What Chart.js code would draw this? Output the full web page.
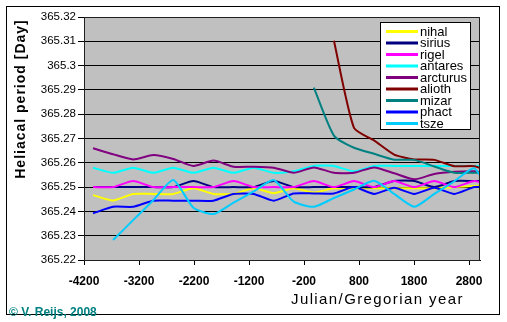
<!DOCTYPE html>
<html>
<head>
<meta charset="utf-8">
<script src="https://cdn.jsdelivr.net/npm/chart.js@4.4.1/dist/chart.umd.min.js"></script>
<style>
  html, body { margin: 0; padding: 0; background: #fff; }
  #wrap { width: 507px; height: 322px; }
</style>
</head>
<body>
<div id="wrap"><canvas id="helChart" width="507" height="322"></canvas></div>
<script>
// years of the computed points (Julian/Gregorian)
const years = [-4036, -3671, -3306, -2941, -2576, -2211, -1846, -1481, -1116, -751,
  -386, -21, 344, 709, 1074, 1439, 1804, 2169, 2534, 2899, 3264];
const xTicks = [-4200, -3200, -2200, -1200, -200, 800, 1800, 2800];
const yTicks = [365.22, 365.23, 365.24, 365.25, 365.26, 365.27, 365.28, 365.29, 365.3, 365.31, 365.32];

const starNames = ['nihal', 'sirius', 'rigel', 'antares', 'arcturus', 'alioth', 'mizar', 'phact', 'tsze'];

const nihal = [365.2467, 365.2445, 365.2472, 365.2472, 365.2472, 365.2495, 365.2472, 365.2472, 365.2495, 365.2475,
  365.2495, 365.2478, 365.2495, 365.2495, 365.2495, 365.2495, 365.2495, 365.2495, 365.2500, 365.2505, 365.2505];
const sirius = [365.2500, 365.2500, 365.2500, 365.2500, 365.2500, 365.2525, 365.2500, 365.2500, 365.2500, 365.2525,
  365.2500, 365.2500, 365.2500, 365.2500, 365.2500, 365.2525, 365.2525, 365.2500, 365.2525, 365.2525, 365.2525];
const rigel = [365.2500, 365.2500, 365.2525, 365.2500, 365.2500, 365.2500, 365.2500, 365.2525, 365.2500, 365.2500,
  365.2500, 365.2525, 365.2500, 365.2525, 365.2500, 365.2525, 365.2500, 365.2525, 365.2500, 365.2525, 365.2500];
const antares = [365.2580, 365.2559, 365.2580, 365.2559, 365.2580, 365.2559, 365.2580, 365.2559, 365.2580, 365.2559,
  365.2565, 365.2587, 365.2587, 365.2565, 365.2587, 365.2587, 365.2587, 365.2587, 365.2587, 365.2587, 365.2587];
const arcturus = [365.2660, 365.2635, 365.2614, 365.2632, 365.2616, 365.2587, 365.2609, 365.2584, 365.2584, 365.2580,
  365.2559, 365.2581, 365.2559, 365.2559, 365.2581, 365.2557, 365.2532, 365.2554, 365.2563, 365.2565, 365.2550];
const alioth = [null, null, null, null, null, null, null, null, null, null,
  null, null, 365.3102, 365.2744, 365.2692, 365.2634, 365.2614, 365.2612, 365.2586, 365.2586, 365.2555];
const mizar = [null, null, null, null, null, null, null, null, null, null,
  null, 365.2909, 365.2712, 365.2662, 365.2637, 365.2613, 365.2612, 365.2585, 365.2559, 365.2559, 365.2559];
const phact = [365.2392, 365.2419, 365.2419, 365.2444, 365.2444, 365.2444, 365.2444, 365.2472, 365.2472, 365.2444,
  365.2474, 365.2474, 365.2474, 365.2500, 365.2472, 365.2497, 365.2472, 365.2497, 365.2472, 365.2500, 365.2500];
const tsze = [null, 365.2282, 365.2364, 365.2446, 365.2529, 365.2415, 365.2389, 365.2436, 365.2482, 365.2529,
  365.2440, 365.2419, 365.2455, 365.2490, 365.2526, 365.2472, 365.2419, 365.2472, 365.2524, 365.2577, 365.2440];

const seriesValues = [nihal, sirius, rigel, antares, arcturus, alioth, mizar, phact, tsze];
const seriesColors = ['#FFFF00', '#000080', '#FF00FF', '#00FFFF', '#800080', '#800000', '#008080', '#0000FF', '#00CCFF'];

const FONT = '"Liberation Sans", Arial, Helvetica, sans-serif';
Chart.defaults.font.family = FONT;
Chart.defaults.color = '#000';

const datasets = seriesValues.map((vals, i) => ({
  label: starNames[i],
  data: years.map((x, j) => ({ x: x, y: vals[j] })).filter(p => p.y !== null),
  borderColor: seriesColors[i],
  backgroundColor: seriesColors[i],
  borderWidth: 2,
  pointRadius: 0,
  tension: 0.2,
  fill: false,
  clip: 0,
  order: seriesValues.length - i // later series on top, like the original
}));

const decor = {
  id: 'decor',
  beforeDraw(chart) {
    const ctx = chart.ctx, a = chart.chartArea;
    ctx.save();
    ctx.fillStyle = '#fff';
    ctx.fillRect(0, 0, chart.width, chart.height);
    ctx.fillStyle = '#C0C0C0';
    ctx.fillRect(a.left, a.top, a.right - a.left, a.bottom - a.top);
    ctx.restore();
  },
  afterDraw(chart) {
    const ctx = chart.ctx, a = chart.chartArea;
    ctx.save();
    // plot border
    ctx.strokeStyle = '#202020';
    ctx.lineWidth = 1;
    ctx.strokeRect(a.left + 0.5, a.top + 0.5, a.right - a.left - 1, a.bottom - a.top);

    // legend
    const lx = 380, ly = 22, lw = 90, lh = 107;
    ctx.fillStyle = '#fff';
    ctx.fillRect(lx, ly, lw, lh);
    ctx.strokeStyle = '#000';
    ctx.strokeRect(lx + 0.5, ly + 0.5, lw, lh);
    ctx.font = '13px ' + FONT;
    ctx.textBaseline = 'middle';
    ctx.textAlign = 'left';
    chart.data.datasets.forEach((ds, i) => {
      const y = 31.5 + i * 11.5;
      ctx.strokeStyle = ds.borderColor;
      ctx.lineWidth = 3;
      ctx.beginPath();
      ctx.moveTo(386, y);
      ctx.lineTo(418, y);
      ctx.stroke();
      ctx.fillStyle = '#000';
      ctx.fillText(ds.label, 420, y + 0.5);
    });

    // outer frame
    ctx.strokeStyle = '#000';
    ctx.lineWidth = 1;
    ctx.strokeRect(6.5, 6.5, 493, 308);

    // axis titles
    ctx.fillStyle = '#000';
    ctx.font = 'bold 14px ' + FONT;
    ctx.letterSpacing = '1px';
    ctx.textAlign = 'center';
    ctx.textBaseline = 'middle';
    ctx.translate(21, 99);
    ctx.rotate(-Math.PI / 2);
    ctx.fillText('Heliacal period [Day]', 0, 0);
    ctx.setTransform(1, 0, 0, 1, 0, 0);

    ctx.font = '15px ' + FONT;
    ctx.letterSpacing = '1.4px';
    ctx.textAlign = 'left';
    ctx.textBaseline = 'alphabetic';
    ctx.fillText('Julian/Gregorian year', 291, 304);

    ctx.letterSpacing = '0px';
    ctx.font = 'bold 12px ' + FONT;
    ctx.fillStyle = '#008080';
    ctx.fillText('\u00A9 V. Reijs, 2008', 9, 316);
    ctx.restore();
  }
};

new Chart(document.getElementById('helChart'), {
  type: 'line',
  data: { datasets: datasets },
  options: {
    responsive: false,
    animation: false,
    events: [],
    layout: { padding: { left: 0, right: 27, top: 17, bottom: 0 } },
    plugins: { legend: { display: false }, tooltip: { enabled: false } },
    scales: {
      x: {
        type: 'linear',
        min: -4200,
        max: 3000,
        afterBuildTicks: s => { s.ticks = xTicks.map(v => ({ value: v })); },
        afterFit: s => { s.height = 62; },
        grid: { drawOnChartArea: false, drawTicks: true, tickLength: 5, color: '#000' },
        border: { display: true, color: '#000' },
        ticks: {
          padding: 9,
          maxRotation: 0,
          font: { size: 12, weight: 'bold' },
          callback: v => String(v)
        }
      },
      y: {
        type: 'linear',
        min: 365.22,
        max: 365.32,
        afterBuildTicks: s => { s.ticks = yTicks.map(v => ({ value: v })); },
        afterFit: s => { s.width = 84; },
        grid: { color: '#000', tickLength: 6 },
        border: { display: true, color: '#000' },
        ticks: {
          padding: 2,
          font: { size: 11.5 },
          callback: v => String(parseFloat(v.toFixed(2)))
        }
      }
    }
  },
  plugins: [decor]
});
</script>
</body>
</html>
